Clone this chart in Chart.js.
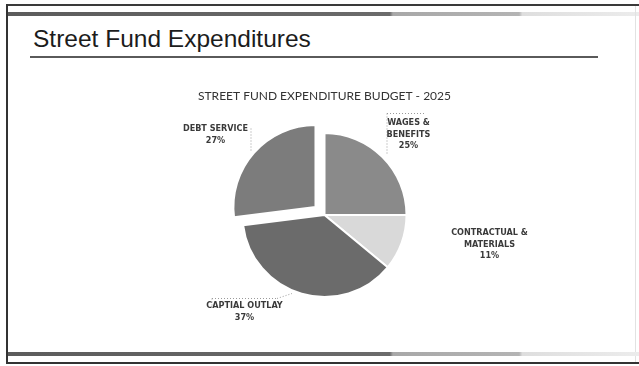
<!DOCTYPE html>
<html>
<head>
<meta charset="utf-8">
<script src="https://cdn.jsdelivr.net/npm/chart.js@4/dist/chart.umd.min.js"></script>
<style>
  html, body { margin: 0; padding: 0; background: #fff; }
  #slide { position: relative; width: 639px; height: 366px; overflow: hidden; background: #fff; }
  .rule { position: absolute; }
  .band { background: linear-gradient(to right, #5c5c5c 0%, #6b6b6b 60.5%, #a8a8a8 61%, #b4b4b4 81%, #dedede 81.5%, #ececec 100%); }
  #heading { position: absolute; left: 33px; top: 27px; margin: 0; font: 24.5px/1 "Liberation Sans", Arial, sans-serif; color: #1c1c1c; white-space: nowrap; }
  #pie { position: absolute; left: 0; top: 0; }
</style>
</head>
<body>
<div id="slide">
  <div class="rule" style="left:6px;top:4px;width:633px;height:2px;background:#3a3a3a"></div>
  <div class="rule band" style="left:8px;top:12px;width:631px;height:4px"></div>
  <div class="rule" style="left:6px;top:4px;width:2px;height:360px;background:#333"></div>
  <div class="rule" style="left:635px;top:6px;width:1px;height:356px;background:#e2e2e2"></div>
  <div class="rule band" style="left:8px;top:352px;width:631px;height:4px"></div>
  <div class="rule" style="left:6px;top:362px;width:633px;height:2px;background:#333"></div>
  <h1 id="heading">Street Fund Expenditures</h1>
  <div class="rule" style="left:30px;top:56px;width:568px;height:2px;background:#5a5a5a"></div>
  <canvas id="pie" width="639" height="366"></canvas>
</div>
<script>
// budget shares, clockwise from 12 o'clock
const categories = ["WAGES & BENEFITS", "CONTRACTUAL & MATERIALS", "CAPTIAL OUTLAY", "DEBT SERVICE"];
const labelLines = [["WAGES &", "BENEFITS"], ["CONTRACTUAL &", "MATERIALS"], ["CAPTIAL OUTLAY"], ["DEBT SERVICE"]];
const shares = [25, 11, 37, 27];
const sliceColors = ["#8a8a8a", "#d9d9d9", "#6b6b6b", "#7c7c7c"];
const pulledOut = [0, 0, 0, 48];

// where each label block sits, relative to the pie centre
const labelSpots = [[84, -92], [165, 18], [-80, 91], [-109, -86]];

const dataLabels = {
  id: "dataLabels",
  afterDatasetsDraw(chart) {
    const ctx = chart.ctx;
    const arcs = chart.getDatasetMeta(0).data;
    const cx = arcs[0].x, cy = arcs[0].y;
    ctx.save();
    // dotted leader / box edges
    ctx.strokeStyle = "#9a9a9a";
    ctx.lineWidth = 1;
    ctx.setLineDash([1, 2]);
    let segs = [
      [[-74, -87], [-74, -65]],
      [[62, -102], [62, -62]],
      [[62, -102], [100, -102]],
      [[-113, 83], [-48, 83]],
      [[-113, 83], [-113, 92]],
      [[-48, 83], [-33, 78]]
    ];
    segs.forEach(s => {
      ctx.beginPath();
      ctx.moveTo(cx + s[0][0] + 0.5, cy + s[0][1] + 0.5);
      ctx.lineTo(cx + s[1][0] + 0.5, cy + s[1][1] + 0.5);
      ctx.stroke();
    });
    ctx.setLineDash([]);
    ctx.fillStyle = "#3a3a3a";
    ctx.font = "bold 9px 'Liberation Sans Narrow', 'DejaVu Sans Condensed', sans-serif";
    ctx.textAlign = "center";
    ctx.textBaseline = "middle";
    labelLines.forEach((lines, i) => {
      let x = cx + labelSpots[i][0];
      let y = cy + labelSpots[i][1];
      lines.concat([shares[i] + "%"]).forEach((t, k) => {
        ctx.fillText(t, x, y + k * 11.5);
      });
    });
    ctx.restore();
  }
};

let ctx = document.querySelector("#pie");
let config = {
  type: "pie",
  data: {
    labels: categories,
    datasets: [{
      data: shares,
      backgroundColor: sliceColors,
      borderColor: "#ffffff",
      borderWidth: 2,
      offset: pulledOut
    }]
  },
  options: {
    responsive: false,
    animation: false,
    radius: 82,
    layout: { padding: { left: 100, right: 90, top: 79, bottom: 66 } },
    plugins: {
      legend: { display: false },
      tooltip: { enabled: false },
      title: {
        display: true,
        text: "STREET FUND EXPENDITURE BUDGET - 2025",
        color: "#333333",
        font: { family: "Lato, 'Open Sans', sans-serif", size: 12, weight: "normal", lineHeight: 1.2 },
        padding: { top: 10, bottom: 26.6 }
      }
    }
  },
  plugins: [dataLabels]
};
let myChart = new Chart(ctx, config);
</script>
</body>
</html>
